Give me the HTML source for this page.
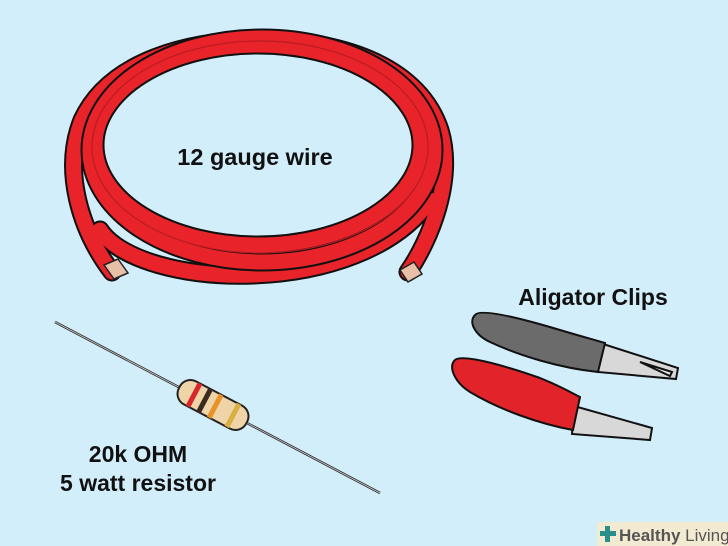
<!DOCTYPE html>
<html><head><style>
html,body{margin:0;padding:0;background:#d3eefb;}
svg{display:block}
text{font-family:"Liberation Sans",sans-serif;}
</style></head><body>
<svg width="728" height="546" viewBox="0 0 728 546">
<rect width="728" height="546" fill="#d3eefb"/>
<g fill="none" stroke-linecap="round">
 <g stroke="#111" stroke-width="19">
  <path d="M112,272 C80,230 62,170 82,120 C110,60 190,40 260,40 C350,40 420,70 440,130 C455,180 430,240 408,272"/>
  <path d="M100,230 C140,290 360,300 430,200"/>
 </g>
 <g stroke="#e8242a" stroke-width="15">
  <path d="M112,272 C80,230 62,170 82,120 C110,60 190,40 260,40 C350,40 420,70 440,130 C455,180 430,240 408,272"/>
  <path d="M100,230 C140,290 360,300 430,200"/>
 </g>
 <g stroke="#111" stroke-width="19">
  <ellipse cx="258" cy="145" rx="163" ry="100"/>
  <ellipse cx="262" cy="150" rx="172" ry="112" />
 </g>
 <g stroke="#e8242a" stroke-width="15">
  <ellipse cx="258" cy="145" rx="163" ry="100"/>
  <ellipse cx="262" cy="150" rx="172" ry="112"/>
 </g>
 <g stroke="#b81c22" stroke-width="1.2">
  <ellipse cx="260" cy="147" rx="168" ry="106"/>
 </g>
</g>
<g stroke="#222" stroke-width="1.5">
 <path d="M104,265 l14,-6 l10,14 l-14,6 z" fill="#e8c0a8"/>
 <path d="M400,270 l14,-8 l8,12 l-14,8 z" fill="#e8c0a8"/>
</g>
<text x="255" y="165" font-size="23.5" font-weight="bold" text-anchor="middle" fill="#111">12 gauge wire</text>

<line x1="55" y1="322" x2="380" y2="493" stroke="#333" stroke-width="2.5"/>
<line x1="55" y1="322" x2="380" y2="493" stroke="#ccc" stroke-width="0.8"/>
<g transform="translate(213,405) rotate(27.7)">
 <rect x="-38" y="-13" width="76" height="26" rx="12" fill="#efd4a8" stroke="#222" stroke-width="2"/>
 <rect x="-24" y="-13" width="5" height="26" fill="#d9262c"/>
 <rect x="-12" y="-13" width="5" height="26" fill="#3a2a22"/>
 <rect x="0" y="-13" width="5" height="26" fill="#e8932a"/>
 <rect x="20" y="-13" width="5" height="26" fill="#d8b040"/>
</g>
<text x="138" y="462" font-size="23" font-weight="bold" text-anchor="middle" fill="#111">20k OHM</text>
<text x="138" y="491" font-size="23" font-weight="bold" text-anchor="middle" fill="#111">5 watt resistor</text>

<text x="593" y="305" font-size="23" font-weight="bold" text-anchor="middle" fill="#111">Aligator Clips</text>
<g stroke="#111" stroke-width="2">
 <path d="M600,343 L678,368 L676,379 L598,372 Z" fill="#d8d8d8"/>
 <path d="M640,362 L672,372 L670,376 Z" fill="#eee"/>
 <path d="M475,315 C480,308 520,318 560,330 C580,336 595,340 605,343 L598,372 C560,368 520,356 490,342 C475,335 468,322 475,315 Z" fill="#6b6b6b"/>
 <path d="M574,406 L652,428 L650,440 L572,434 Z" fill="#d8d8d8"/>
 <path d="M455,360 C462,354 500,364 540,378 C560,386 572,393 580,397 L573,430 C540,424 500,410 470,392 C454,382 448,366 455,360 Z" fill="#e1242a"/>
</g>

<rect x="597" y="522" width="131" height="24" fill="#f3ead2"/>
<rect x="600" y="531" width="16" height="5" fill="#2a8f8a"/>
<rect x="605" y="526" width="5" height="16" fill="#2a8f8a"/>
<text x="619" y="541" font-size="17" fill="#555"><tspan font-weight="bold">Healthy</tspan> Living</text>
</svg>
</body></html>
